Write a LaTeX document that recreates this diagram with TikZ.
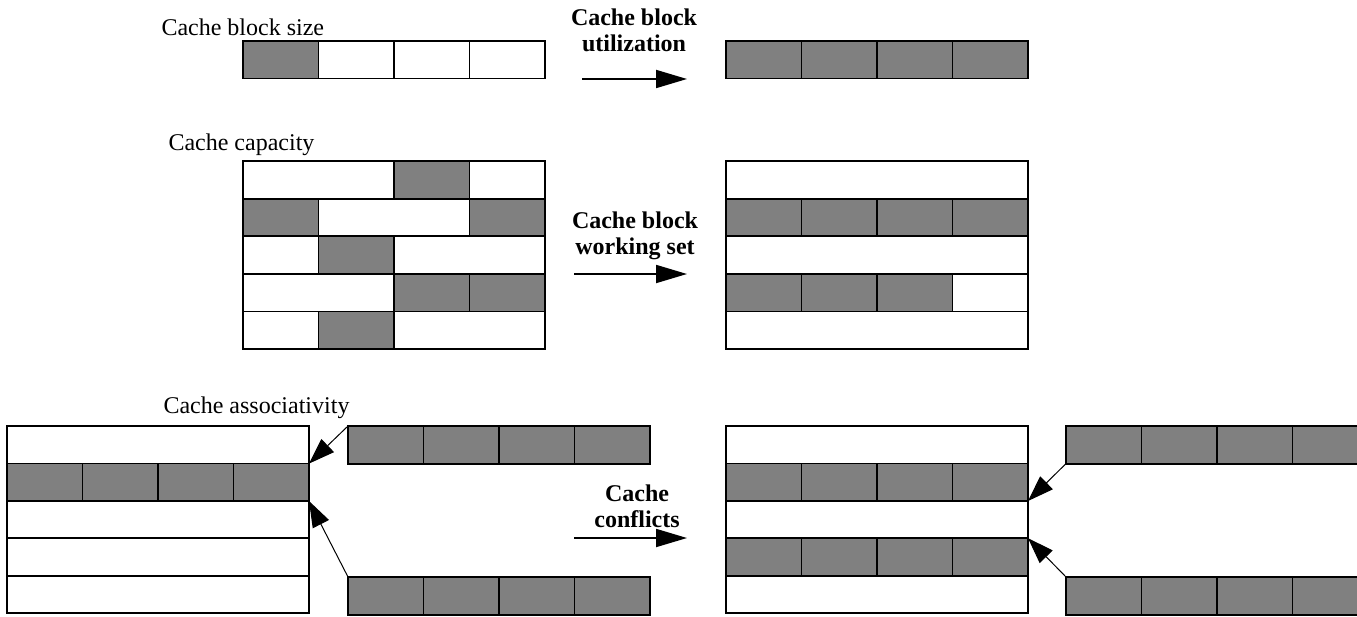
\documentclass[tikz,border=0pt]{standalone}
\usepackage{fontspec}
\setmainfont{Liberation Serif}
\usetikzlibrary{arrows.meta}
\definecolor{cachegray}{RGB}{128,128,128}
\tikzset{
  cell/.style={draw, line width=1.8bp, fill=white, minimum width=75.5bp, minimum height=37.6bp,
    inner sep=0pt, outer sep=0pt, anchor=north west},
  cells/.style={minimum width=#1*75.5bp},
  plain/.style={font=\fontsize{24bp}{26bp}\selectfont},
  bold/.style={font=\fontsize{24bp}{26bp}\selectfont\bfseries, align=center},
  bigarrow/.style={line width=1.8bp, -{Triangle[length=31bp,width=18bp]}},
  maparrow/.style={line width=1bp, -{Triangle[length=26bp,width=18bp]}}
}

\begin{document}
\begin{tikzpicture}[x=1bp,y=-1bp]
  \useasboundingbox (0,0) rectangle (1357,617);
  \clip (0,0) rectangle (1357,617);

  % block size
  \node[plain, anchor=base west] (tsize) at (158,36) {Cache block size};
  \node[cell, fill=cachegray] (s0) at (243,41) {};
  \foreach \i in {1,2,3}
  {
  \node[cell] (s\i) at ({243+75.5*\i},41) {};
  }
  \foreach \i in {0,...,3}
  {
  \node[cell, fill=cachegray] (u\i) at ({726+75.5*\i},41) {};
  }
  \coordinate (ufrom) at (582,79);
  \coordinate (uto) at (687,79);
  \draw[bigarrow] (ufrom) -- (uto);
  \node[bold, anchor=base] (tutil) at (634,52) {Cache block\\utilization};

  % capacity
  \node[plain, anchor=base west] (tcap) at (165,151) {Cache capacity};
  \foreach \r/\c/\w/\f in {0/0/2/white, 0/2/1/cachegray, 0/3/1/white,
                           1/0/1/cachegray, 1/1/2/white, 1/3/1/cachegray,
                           2/0/1/white, 2/1/1/cachegray, 2/2/2/white,
                           3/0/2/white, 3/2/1/cachegray, 3/3/1/cachegray,
                           4/0/1/white, 4/1/1/cachegray, 4/2/2/white}
  {
  \node[cell, fill=\f, cells=\w] (c\r\c) at ({243+75.5*\c},{161+37.6*\r}) {};
  }
  \foreach \r/\c/\w/\f in {0/0/4/white,
                           1/0/1/cachegray, 1/1/1/cachegray, 1/2/1/cachegray, 1/3/1/cachegray,
                           2/0/4/white,
                           3/0/1/cachegray, 3/1/1/cachegray, 3/2/1/cachegray, 3/3/1/white,
                           4/0/4/white}
  {
  \node[cell, fill=\f, cells=\w] (w\r\c) at ({726+75.5*\c},{161+37.6*\r}) {};
  }
  \coordinate (wfrom) at (574,274);
  \coordinate (wto) at (687,274);
  \draw[bigarrow] (wfrom) -- (wto);
  \node[bold, anchor=base] (twork) at (635,254) {Cache block\\working set};

  % associativity
  \node[plain, anchor=base west] (tassoc) at (160,413) {Cache associativity};
  \foreach \r/\c/\w/\f in {0/0/4/white,
                           1/0/1/cachegray, 1/1/1/cachegray, 1/2/1/cachegray, 1/3/1/cachegray,
                           2/0/4/white, 3/0/4/white, 4/0/4/white}
  {
  \node[cell, fill=\f, cells=\w] (a\r\c) at ({7+75.5*\c},{426+37.4*\r}) {};
  }
  \foreach \r/\c/\w/\f in {0/0/4/white,
                           1/0/1/cachegray, 1/1/1/cachegray, 1/2/1/cachegray, 1/3/1/cachegray,
                           2/0/4/white,
                           3/0/1/cachegray, 3/1/1/cachegray, 3/2/1/cachegray, 3/3/1/cachegray,
                           4/0/4/white}
  {
  \node[cell, fill=\f, cells=\w] (b\r\c) at ({726+75.5*\c},{426+37.4*\r}) {};
  }
  \foreach \i in {0,...,3}
  {
  \node[cell, fill=cachegray] (p\i) at ({348+75.5*\i},426) {};
  \node[cell, fill=cachegray] (q\i) at ({348+75.5*\i},577) {};
  \node[cell, fill=cachegray] (m\i) at ({1066+75.5*\i},426) {};
  \node[cell, fill=cachegray] (n\i) at ({1066+75.5*\i},577) {};
  }
  \draw[maparrow] (p0.north west) -- (a00.south east);
  \draw[maparrow] (q0.north west) -- (a13.south east);
  \draw[maparrow] (m0.south west) -- (b13.south east);
  \draw[maparrow] (n0.north west) -- (b33.north east);

  \coordinate (kfrom) at (574,538);
  \coordinate (kto) at (687,538);
  \draw[bigarrow] (kfrom) -- (kto);
  \node[bold, anchor=base] (tconf) at (637,527) {Cache\\conflicts};
\end{tikzpicture}
\end{document}
